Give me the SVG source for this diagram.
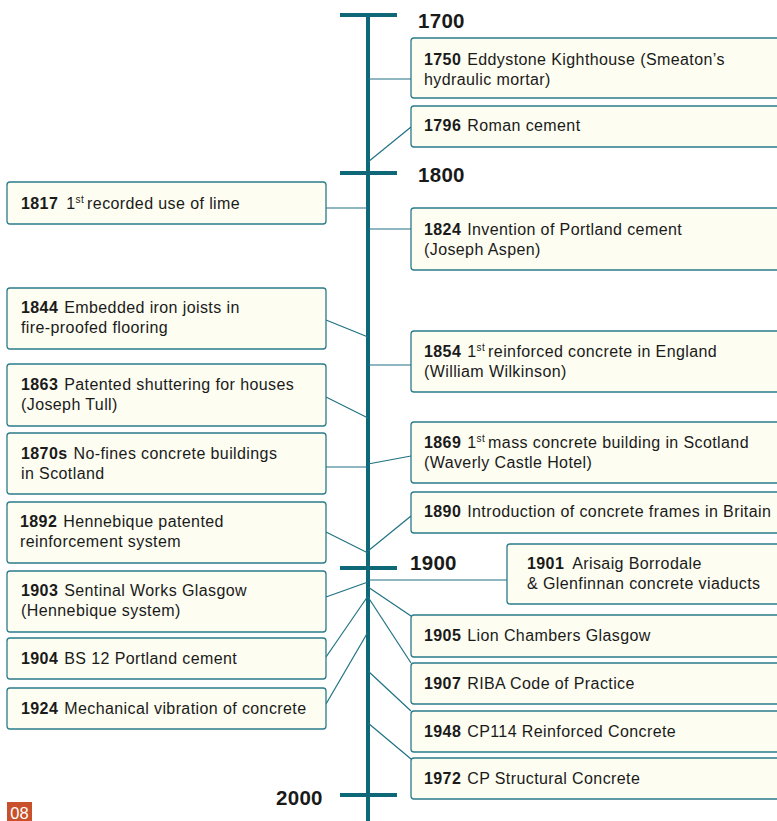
<svg xmlns="http://www.w3.org/2000/svg" width="777" height="821" viewBox="0 0 777 821">
<style>
.box{fill:#fdfdf1;stroke:#2a7b8b;stroke-width:1.3}
.t{font-family:"Liberation Sans",Arial,sans-serif;font-size:16px;fill:#1a1a1a;letter-spacing:0.4px}
.b{font-weight:bold}
.sup{font-size:10px}
.yr{font-family:"Liberation Sans",Arial,sans-serif;font-size:20.5px;font-weight:bold;fill:#1a1a1a;letter-spacing:0.3px}
.axis{stroke:#0f6878;stroke-width:4;fill:none}
.con{stroke:#1f7183;stroke-width:1.2;fill:none}
</style>
<rect width="777" height="821" fill="#ffffff"/>
<g id="axis">
<line class="axis" x1="368" y1="15" x2="368" y2="821"/>
<line class="axis" x1="340" y1="15" x2="397" y2="15"/>
<line class="axis" x1="340" y1="173" x2="397" y2="173"/>
<line class="axis" x1="340" y1="568" x2="397" y2="568"/>
<line class="axis" x1="340" y1="795" x2="397" y2="795"/>
<text class="yr" x="418" y="28">1700</text>
<text class="yr" x="418" y="182">1800</text>
<text class="yr" x="410" y="570">1900</text>
<text class="yr" x="276" y="805">2000</text>
</g>
<g id="connectors">
<line class="con" x1="368" y1="79" x2="411" y2="79"/>
<line class="con" x1="368" y1="162" x2="411" y2="127"/>
<line class="con" x1="326" y1="208" x2="368" y2="208"/>
<line class="con" x1="368" y1="229" x2="411" y2="229"/>
<line class="con" x1="326" y1="320" x2="368" y2="337"/>
<line class="con" x1="368" y1="365" x2="411" y2="365"/>
<line class="con" x1="326" y1="397" x2="368" y2="418"/>
<line class="con" x1="326" y1="467" x2="368" y2="467"/>
<line class="con" x1="368" y1="464" x2="411" y2="456"/>
<line class="con" x1="368" y1="551" x2="411" y2="516"/>
<line class="con" x1="326" y1="532" x2="368" y2="553"/>
<line class="con" x1="368" y1="580" x2="507" y2="580"/>
<line class="con" x1="326" y1="597" x2="368" y2="582"/>
<line class="con" x1="326" y1="657" x2="368" y2="596"/>
<line class="con" x1="326" y1="704" x2="368" y2="632"/>
<line class="con" x1="368" y1="587" x2="411" y2="616"/>
<line class="con" x1="368" y1="597" x2="411" y2="663"/>
<line class="con" x1="368" y1="671" x2="411" y2="711"/>
<line class="con" x1="368" y1="723" x2="411" y2="759"/>
</g>
<g id="n1750"><rect class="box" x="411" y="38" width="380" height="60" rx="3"/>
<text class="t" x="424" y="65"><tspan class="b">1750</tspan><tspan dx="6">Eddystone Kighthouse (Smeaton’s</tspan></text>
<text class="t" x="424" y="85">hydraulic mortar)</text></g>
<g id="n1796"><rect class="box" x="411" y="106" width="380" height="41" rx="3"/>
<text class="t" x="424" y="131"><tspan class="b">1796</tspan><tspan dx="6">Roman cement</tspan></text></g>
<g id="n1817"><rect class="box" x="7" y="182" width="319" height="42" rx="3"/>
<text class="t" x="21" y="209"><tspan class="b">1817</tspan><tspan dx="8">1</tspan><tspan class="sup" dy="-6">st</tspan><tspan dx="3" dy="6">recorded use of lime</tspan></text></g>
<g id="n1824"><rect class="box" x="411" y="208" width="380" height="62" rx="3"/>
<text class="t" x="424" y="235"><tspan class="b">1824</tspan><tspan dx="6">Invention of Portland cement</tspan></text>
<text class="t" x="424" y="255">(Joseph Aspen)</text></g>
<g id="n1844"><rect class="box" x="7" y="288" width="319" height="61" rx="3"/>
<text class="t" x="21" y="313"><tspan class="b">1844</tspan><tspan dx="6">Embedded iron joists in</tspan></text>
<text class="t" x="21" y="333">fire-proofed flooring</text></g>
<g id="n1854"><rect class="box" x="411" y="331" width="380" height="61" rx="3"/>
<text class="t" x="424" y="357"><tspan class="b">1854</tspan><tspan dx="6">1</tspan><tspan class="sup" dy="-6">st</tspan><tspan dx="3" dy="6">reinforced concrete in England</tspan></text>
<text class="t" x="424" y="377">(William Wilkinson)</text></g>
<g id="n1863"><rect class="box" x="7" y="364" width="319" height="62" rx="3"/>
<text class="t" x="21" y="390"><tspan class="b">1863</tspan><tspan dx="6">Patented shuttering for houses</tspan></text>
<text class="t" x="21" y="410">(Joseph Tull)</text></g>
<g id="n1870s"><rect class="box" x="7" y="433" width="319" height="61" rx="3"/>
<text class="t" x="21" y="459"><tspan class="b">1870s</tspan><tspan dx="6">No-fines concrete buildings</tspan></text>
<text class="t" x="21" y="479">in Scotland</text></g>
<g id="n1869"><rect class="box" x="411" y="422" width="380" height="61" rx="3"/>
<text class="t" x="424" y="448"><tspan class="b">1869</tspan><tspan dx="6">1</tspan><tspan class="sup" dy="-6">st</tspan><tspan dx="3" dy="6">mass concrete building in Scotland</tspan></text>
<text class="t" x="424" y="468">(Waverly Castle Hotel)</text></g>
<g id="n1890"><rect class="box" x="411" y="492" width="380" height="41" rx="3"/>
<text class="t" x="424" y="517"><tspan class="b">1890</tspan><tspan dx="6">Introduction of concrete frames in Britain</tspan></text></g>
<g id="n1892"><rect class="box" x="7" y="502" width="319" height="61" rx="3"/>
<text class="t" x="20" y="527"><tspan class="b">1892</tspan><tspan dx="6">Hennebique patented</tspan></text>
<text class="t" x="20" y="547">reinforcement system</text></g>
<g id="n1901"><rect class="box" x="507" y="544" width="284" height="60" rx="3"/>
<text class="t" x="527" y="569"><tspan class="b">1901</tspan><tspan dx="8">Arisaig Borrodale</tspan></text>
<text class="t" x="527" y="589">&amp; Glenfinnan concrete viaducts</text></g>
<g id="n1903"><rect class="box" x="7" y="571" width="319" height="61" rx="3"/>
<text class="t" x="21" y="596"><tspan class="b">1903</tspan><tspan dx="6">Sentinal Works Glasgow</tspan></text>
<text class="t" x="21" y="616">(Hennebique system)</text></g>
<g id="n1904"><rect class="box" x="7" y="638" width="319" height="41" rx="3"/>
<text class="t" x="21" y="664"><tspan class="b">1904</tspan><tspan dx="6">BS 12 Portland cement</tspan></text></g>
<g id="n1924"><rect class="box" x="7" y="688" width="319" height="41" rx="3"/>
<text class="t" x="21" y="714"><tspan class="b">1924</tspan><tspan dx="6">Mechanical vibration of concrete</tspan></text></g>
<g id="n1905"><rect class="box" x="411" y="615" width="380" height="42" rx="3"/>
<text class="t" x="424" y="641"><tspan class="b">1905</tspan><tspan dx="6">Lion Chambers Glasgow</tspan></text></g>
<g id="n1907"><rect class="box" x="411" y="663" width="380" height="41" rx="3"/>
<text class="t" x="424" y="689"><tspan class="b">1907</tspan><tspan dx="6">RIBA Code of Practice</tspan></text></g>
<g id="n1948"><rect class="box" x="411" y="711" width="380" height="41" rx="3"/>
<text class="t" x="424" y="737"><tspan class="b">1948</tspan><tspan dx="6">CP114 Reinforced Concrete</tspan></text></g>
<g id="n1972"><rect class="box" x="411" y="758" width="380" height="41" rx="3"/>
<text class="t" x="424" y="784"><tspan class="b">1972</tspan><tspan dx="6">CP Structural Concrete</tspan></text></g>
<g id="page"><rect x="7" y="802" width="25" height="19" fill="#c8502a"/>
<text x="19.5" y="819" text-anchor="middle" font-family="Liberation Sans,Arial,sans-serif" font-size="16.5" fill="#ffffff">08</text></g>
</svg>
